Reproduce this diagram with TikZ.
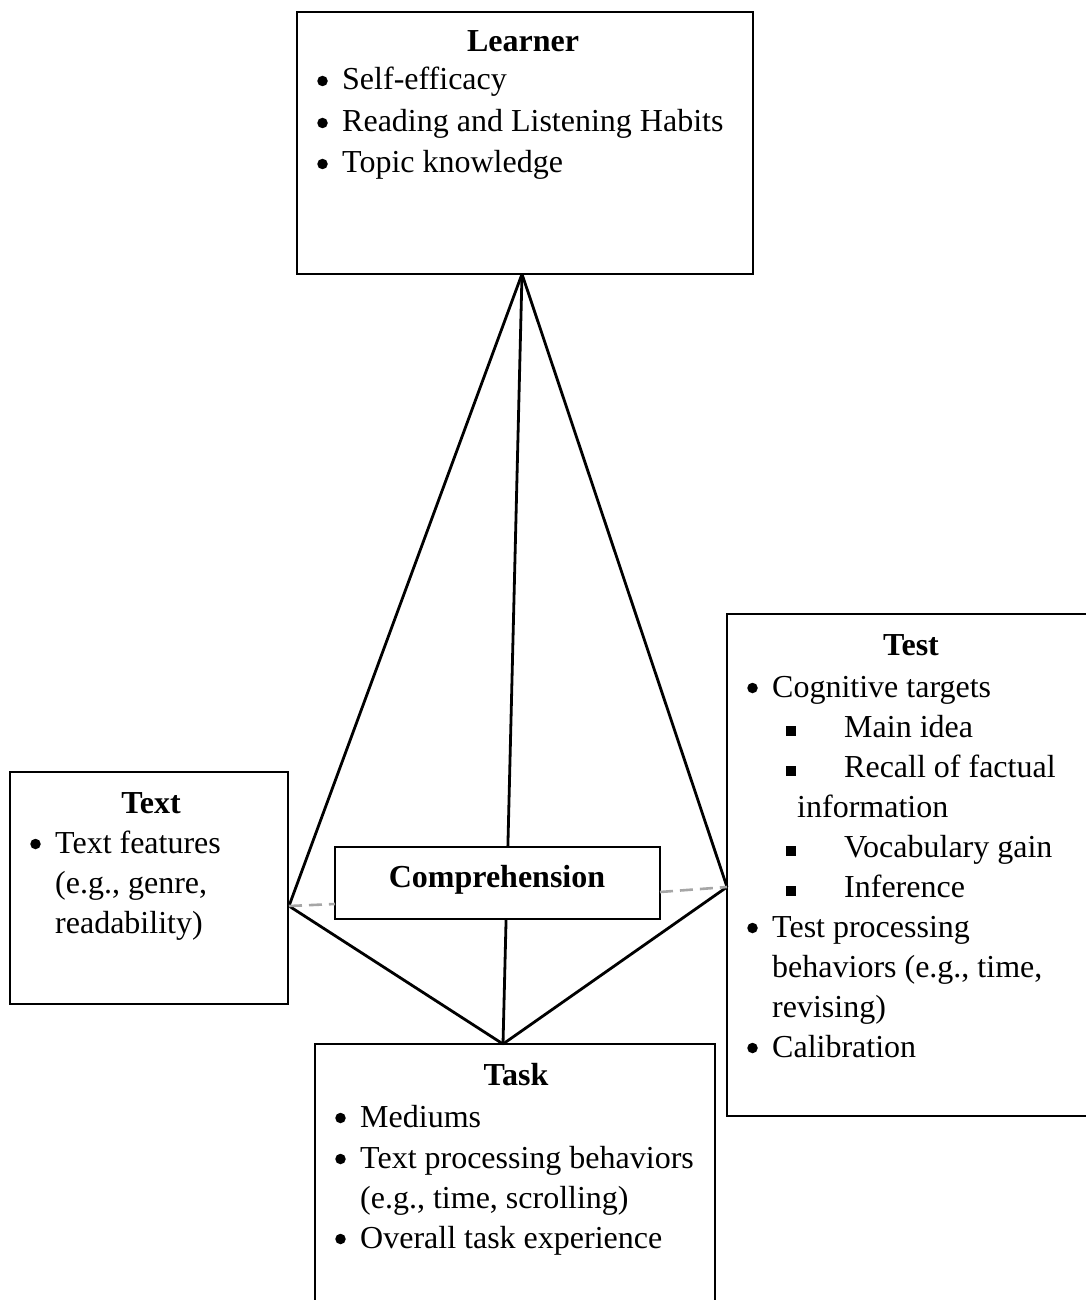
\documentclass[tikz,border=0pt]{standalone}
\usepackage{fontspec}
\setmainfont{Liberation Serif}
\definecolor{dashgray}{HTML}{A6A6A6}
\tikzset{
  box/.style={draw=black, line width=2pt, rectangle, inner sep=0pt},
  link/.style={draw=black, line width=2.8pt},
  dlink/.style={draw=dashgray, line width=2.6pt, dash pattern=on 13pt off 7pt},
  ttl/.style={anchor=base, inner sep=0pt, font=\fontsize{32}{38}\selectfont\bfseries},
  ln/.style={anchor=base west, inner sep=0pt, font=\fontsize{32}{38}\selectfont},
  bul/.style={circle, fill=black, inner sep=0pt, minimum size=10.5pt},
  sq/.style={rectangle, fill=black, inner sep=0pt, minimum size=9.5pt, anchor=south},
}
\begin{document}
\begin{tikzpicture}[x=1pt, y=-1pt]
\useasboundingbox (0,0) rectangle (1086,1300);
\clip (0,0) rectangle (1086,1300);
% connector end points on box edges
\coordinate (apex) at (522,274);
\coordinate (vL) at (289,906);
\coordinate (vR) at (727,887);
\coordinate (vB) at (503,1044);
\coordinate (cL) at (335,904);
\coordinate (cR) at (660,892);
% solid connectors
\draw[link] (apex) -- (vL);
\draw[link] (apex) -- (vR);
\draw[link] (apex) -- (vB);
\draw[link] (vL) -- (vB);
\draw[link] (vR) -- (vB);
% boxes
\node[box, minimum width=456pt, minimum height=262pt] (learner) at (525,143) {};
\node[box, minimum width=278pt, minimum height=232pt] (text) at (149,888) {};
\node[box, minimum width=373pt, minimum height=502pt] (test) at (913.5,865) {};
\node[box, minimum width=400pt, minimum height=276pt] (task) at (515,1182) {};
\node[box, fill=white, minimum width=325pt, minimum height=72pt] (comp) at (497.5,883) {};
% dashed connectors
\draw[dlink] (vL) -- (cL);
\draw[dlink] (cR) -- (vR);
% comprehension
\node[ttl] (compt) at (497,887) {Comprehension};
% Learner
\node[ttl] (lt) at (523,52) {Learner};
\node[bul] (lb1) at (322.5,81) {};
\node[ln] (l1) at (342,90) {Self-efficacy};
\node[bul] (lb2) at (322.5,123) {};
\node[ln] (l2) at (342,132) {Reading and Listening Habits};
\node[bul] (lb3) at (322.5,164) {};
\node[ln] (l3) at (342,173) {Topic knowledge};
% Text
\node[ttl] (tt) at (151,813) {Text};
\node[bul] (tb1) at (35.5,844) {};
\node[ln] (t1) at (55,853) {Text features};
\node[ln] (t2) at (55,893) {(e.g., genre,};
\node[ln] (t3) at (55,933) {readability)};
% Test
\node[ttl] (et) at (911,655) {Test};
\node[bul] (eb1) at (752.5,688) {};
\node[ln] (e1) at (772,697) {Cognitive targets};
\node[sq] (es1) at (791,736) {};
\node[ln] (e2) at (844,737) {Main idea};
\node[sq] (es2) at (791,776) {};
\node[ln] (e3) at (844,777) {Recall of factual};
\node[ln] (e4) at (797,817) {information};
\node[sq] (es3) at (791,856) {};
\node[ln] (e5) at (844,857) {Vocabulary gain};
\node[sq] (es4) at (791,896) {};
\node[ln] (e6) at (844,897) {Inference};
\node[bul] (eb2) at (752.5,928) {};
\node[ln] (e7) at (772,937) {Test processing};
\node[ln] (e8) at (772,977) {behaviors (e.g., time,};
\node[ln] (e9) at (772,1017) {revising)};
\node[bul] (eb3) at (752.5,1048) {};
\node[ln] (e10) at (772,1057) {Calibration};
% Task
\node[ttl] (kt) at (516,1085) {Task};
\node[bul] (kb1) at (340.5,1118) {};
\node[ln] (k1) at (360,1127) {Mediums};
\node[bul] (kb2) at (340.5,1159) {};
\node[ln] (k2) at (360,1168) {Text processing behaviors};
\node[ln] (k3) at (360,1208) {(e.g., time, scrolling)};
\node[bul] (kb3) at (340.5,1239) {};
\node[ln] (k4) at (360,1248) {Overall task experience};
\end{tikzpicture}
\end{document}
